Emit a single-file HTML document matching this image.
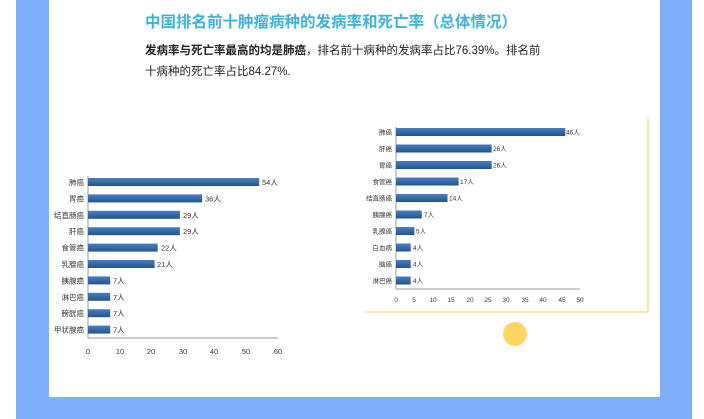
<!DOCTYPE html><html><head><meta charset="utf-8"><style>
body{margin:0;width:704px;height:419px;position:relative;background:#fff;overflow:hidden;font-family:"Liberation Sans","Noto Sans CJK SC",sans-serif}
.a{position:absolute}
</style></head><body>
<div class="a" style="left:16px;top:0;width:676px;height:419px;background:#7faefc"></div>
<div class="a" style="left:49px;top:0;width:611px;height:397px;background:#fff"></div>
<div class="a" style="left:145px;top:10px;font-size:15.5px;font-weight:bold;color:#3db3dc;white-space:nowrap">中国排名前十肿瘤病种的发病率和死亡率（总体情况）</div>
<div class="a" style="left:145px;top:41px;font-size:11.5px;color:#222;line-height:21px;width:420px"><b>发病率与死亡率最高的均是肺癌</b>，排名前十病种的发病率占比76.39%。排名前<br>十病种的死亡率占比84.27%.</div>
<div class="a" style="left:503px;top:322px;width:24px;height:24px;border-radius:50%;background:#fed463"></div>
<svg class="a" style="left:0;top:0" width="704" height="419" font-family="Liberation Sans,Noto Sans CJK SC,sans-serif">
<defs><linearGradient id="g" x1="0" y1="0" x2="0" y2="1"><stop offset="0" stop-color="#4a7fc0"/><stop offset="1" stop-color="#22548f"/></linearGradient></defs>
<g font-size="7.5" fill="#333">
<line x1="88" y1="176" x2="88" y2="338" stroke="#999"/><line x1="88" y1="338" x2="278" y2="338" stroke="#999"/>
<g text-anchor="middle">
<text x="88" y="354">0</text><text x="120" y="354">10</text><text x="151" y="354">20</text><text x="183" y="354">30</text><text x="214" y="354">40</text><text x="246" y="354">50</text><text x="278" y="354">60</text></g>
<g fill="url(#g)">
<rect x="88" y="178" width="171.2" height="8"/>
<rect x="88" y="194.4" width="114.1" height="8"/>
<rect x="88" y="210.8" width="91.9" height="8"/>
<rect x="88" y="227.2" width="91.9" height="8"/>
<rect x="88" y="243.6" width="69.7" height="8"/>
<rect x="88" y="260" width="66.6" height="8"/>
<rect x="88" y="276.4" width="22.2" height="8"/>
<rect x="88" y="292.8" width="22.2" height="8"/>
<rect x="88" y="309.2" width="22.2" height="8"/>
<rect x="88" y="325.6" width="22.2" height="8"/>
</g>
<g text-anchor="end">
<text x="84" y="185">肺癌</text><text x="84" y="201.4">胃癌</text><text x="84" y="217.8">结直肠癌</text><text x="84" y="234.2">肝癌</text><text x="84" y="250.6">食管癌</text><text x="84" y="267">乳腺癌</text><text x="84" y="283.4">胰腺癌</text><text x="84" y="299.8">淋巴癌</text><text x="84" y="316.2">膀胱癌</text><text x="84" y="332.6">甲状腺癌</text>
</g>
<text x="262" y="185">54人</text><text x="205" y="201.4">36人</text><text x="183" y="217.8">29人</text><text x="183" y="234.2">29人</text><text x="161" y="250.6">22人</text><text x="157" y="267">21人</text><text x="113" y="283.4">7人</text><text x="113" y="299.8">7人</text><text x="113" y="316.2">7人</text><text x="113" y="332.6">7人</text>
</g>
<polyline points="366,312 648,312 648,117" fill="none" stroke="#f2d980" stroke-width="1.3"/>
<g font-size="6.5" fill="#333">
<line x1="396" y1="127" x2="396" y2="289" stroke="#999"/><line x1="396" y1="289" x2="580" y2="289" stroke="#999"/>
<g text-anchor="middle"><text x="396" y="302">0</text><text x="414" y="302">5</text><text x="433" y="302">10</text><text x="451" y="302">15</text><text x="470" y="302">20</text><text x="488" y="302">25</text><text x="506" y="302">30</text><text x="525" y="302">35</text><text x="543" y="302">40</text><text x="562" y="302">45</text><text x="580" y="302">50</text></g>
<g fill="url(#g)">
<rect x="396" y="128" width="169.3" height="8"/>
<rect x="396" y="144.5" width="95.7" height="8"/>
<rect x="396" y="161" width="95.7" height="8"/>
<rect x="396" y="177.5" width="62.6" height="8"/>
<rect x="396" y="194" width="51.5" height="8"/>
<rect x="396" y="210.5" width="25.8" height="8"/>
<rect x="396" y="227" width="18.4" height="8"/>
<rect x="396" y="243.5" width="14.7" height="8"/>
<rect x="396" y="260" width="14.7" height="8"/>
<rect x="396" y="276.5" width="14.7" height="8"/>
</g>
<g text-anchor="end">
<text x="392" y="134.5">肺癌</text><text x="392" y="151">肝癌</text><text x="392" y="167.5">胃癌</text><text x="392" y="184">食管癌</text><text x="392" y="200.5">结直肠癌</text><text x="392" y="217">胰腺癌</text><text x="392" y="233.5">乳腺癌</text><text x="392" y="250">白血病</text><text x="392" y="266.5">脑癌</text><text x="392" y="283">淋巴癌</text>
</g>
<text x="566" y="134.5">46人</text><text x="493" y="151">26人</text><text x="493" y="167.5">26人</text><text x="460" y="184">17人</text><text x="449" y="200.5">14人</text><text x="424" y="217">7人</text><text x="416" y="233.5">5人</text><text x="413" y="250">4人</text><text x="413" y="266.5">4人</text><text x="413" y="283">4人</text>
</g>
</svg>
</body></html>
